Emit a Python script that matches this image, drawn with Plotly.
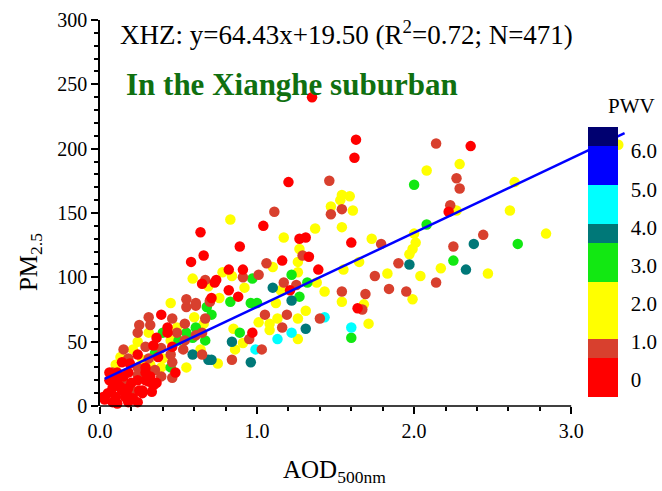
import plotly.graph_objects as go

# ---------------- data ----------------
# PWV class < 0.5 (red)
red_aod = [0.39, 0.43, 0.43, 0.36, 0.34, 0.46, 0.24, 0.37, 0.14, 0.19,
           0.29, 0.11, 0.18, 0.29, 0.32, 0.06, 0.11, 0.20, 0.24, 0.31,
           0.34, 0.08, 0.14, 0.18, 0.27, 0.05, 0.10, 0.16, 0.21, 0.03,
           0.08, 0.24, 0.11, 0.18, 0.13, 0.17, 0.25, 0.29, 0.33, 0.15,
           0.10, 0.06, 0.36, 0.48, 0.27, 0.02, 0.64, 0.66, 0.58, 0.65,
           0.73, 1.20, 1.04, 0.89, 1.27, 1.31, 1.33, 1.16, 0.91, 0.82,
           0.74, 1.39, 1.21, 0.82, 0.88, 0.71, 0.97, 1.63, 1.62, 2.22,
           1.60, 1.64, 2.36, 1.35]
red_pm = [71, 61, 57, 53, 47, 46, 40, 38, 34, 33,
          30, 26, 26, 26, 23, 20, 18, 18, 20, 19,
          16, 14, 12, 14, 12, 10, 7, 7, 6, 5,
          3, 3, 2, 3, 15, 10, 12, 20, 11, 23,
          20, 26, 18, 26, 10, 7, 135, 117, 112, 95,
          96, 174, 140, 124, 130, 131, 116, 113, 106, 106,
          98, 106, 90, 90, 85, 84, 57, 207, 193, 151,
          127, 76, 202, 240]

# PWV class ~1 (dark red)
dred_aod = [0.55, 0.61, 0.70, 0.31, 0.46, 0.67, 0.25, 0.32, 0.54, 0.24,
            0.49, 0.61, 0.65, 0.54, 0.15, 0.29, 0.39, 0.53, 0.65, 0.18,
            0.31, 0.45, 0.24, 0.35, 0.46, 0.08, 0.24, 0.39, 0.46, 0.15,
            0.22, 0.67, 0.55, 0.61, 0.70, 1.46, 1.11, 1.47, 1.29, 1.06,
            0.91, 1.01, 1.17, 1.25, 1.19, 1.40, 1.05, 1.16, 0.95, 1.03,
            0.84, 2.14, 2.27, 2.29, 1.54, 2.23, 1.79, 2.25, 1.90, 1.75,
            1.54, 1.84, 1.95, 2.14, 1.69, 1.67, 2.44]
dred_pm = [77, 78, 81, 69, 68, 68, 63, 63, 64, 57,
           57, 55, 57, 51, 44, 46, 45, 44, 40, 37,
           37, 40, 30, 28, 34, 26, 24, 23, 22, 19,
           11, 98, 83, 80, 82, 175, 151, 149, 117, 111,
           100, 102, 96, 94, 71, 68, 71, 61, 52, 44,
           36, 204, 177, 169, 153, 156, 126, 124, 111, 101,
           89, 91, 89, 96, 87, 75, 133]

# PWV class 1-2.5 (yellow)
yel_aod = [0.45, 0.60, 0.49, 0.66, 0.31, 0.24, 0.45, 0.21, 0.64, 0.13,
           0.27, 0.40, 0.10, 0.32, 0.39, 0.55, 0.59, 0.69, 0.83, 1.47,
           1.37, 1.17, 1.27, 1.26, 1.10, 0.78, 0.84, 1.26, 0.92, 1.38,
           1.43, 1.15, 0.76, 1.12, 1.31, 1.01, 1.08, 1.13, 1.26, 1.08,
           0.85, 1.26, 0.91, 0.86, 0.75, 2.29, 2.08, 1.54, 1.59, 1.53,
           1.61, 2.27, 1.54, 1.73, 2.00, 2.01, 1.99, 1.97, 1.65, 1.55,
           2.17, 1.83, 2.04, 1.99, 1.54, 1.68, 1.71, 2.64, 2.61, 2.84,
           2.47, 3.30]
yel_pm = [80, 69, 61, 64, 57, 50, 51, 44, 44, 38,
          36, 37, 32, 32, 30, 30, 99, 93, 145, 155,
          138, 131, 122, 112, 108, 104, 101, 104, 92, 96,
          89, 90, 84, 80, 74, 65, 64, 68, 68, 59,
          60, 52, 49, 44, 33, 188, 183, 164, 163, 160,
          152, 152, 139, 130, 134, 127, 122, 118, 112, 106,
          107, 103, 101, 83, 81, 79, 64, 174, 152, 134,
          103, 203]

# PWV class ~3 (green)
grn_aod = [0.68, 0.71, 0.61, 0.40, 0.55, 0.50, 0.59, 0.67, 0.35, 0.45,
           0.97, 1.22, 1.32, 1.27, 0.83, 0.96, 1.00, 0.89, 2.00, 2.08,
           2.25, 1.60, 2.66]
grn_pm = [77, 71, 61, 57, 57, 51, 53, 51, 41, 30,
          99, 102, 96, 85, 81, 80, 80, 57, 172, 141,
          113, 53, 126]

# PWV class ~4 (teal)
teal_aod = [0.59, 0.69, 1.10, 1.22, 1.31, 0.84, 0.96, 0.71, 1.97, 2.38, 2.33]
teal_pm = [40, 36, 92, 82, 60, 50, 34, 36, 110, 126, 106]

# PWV class ~4.5 (cyan)
cyan_aod = [1.43, 1.22, 1.13, 0.99, 1.60]
cyan_pm = [69, 57, 52, 44, 61]

# representative PWV value of each class
pwv_yel, pwv_grn, pwv_teal, pwv_cyan, pwv_dred, pwv_red = 1.8, 3.0, 3.85, 4.6, 0.8, 0.2

# fitted line as drawn in the picture (end points)
fit_x = [0.03, 3.34]
fit_y = [21, 212]

# colour bar
pwv_ticks = [0, 1, 2, 3, 4, 5, 6]
pwv_ticktext = ["0", "1.0", "2.0", "3.0", "4.0", "5.0", "6.0"]
pwv_min, pwv_max = -0.44, 6.64
pwv_bounds = [0.57, 1.08, 2.58, 3.59, 4.10, 5.11, 6.13]
pwv_colors = ["#ff0000", "#d8402e", "#ffff00", "#12e812", "#007878",
              "#00ffff", "#0000ff", "#000070"]

x_ticks = [0, 1, 2, 3]
x_ticktext = ["0.0", "1.0", "2.0", "3.0"]
y_ticks = [0, 50, 100, 150, 200, 250, 300]

# ---------------- build ----------------
groups = [(yel_aod, yel_pm, pwv_yel), (grn_aod, grn_pm, pwv_grn),
          (teal_aod, teal_pm, pwv_teal), (cyan_aod, cyan_pm, pwv_cyan),
          (dred_aod, dred_pm, pwv_dred), (red_aod, red_pm, pwv_red)]
aod, pm, pwv = [], [], []
for gx, gy, gv in groups:
    n = min(len(gx), len(gy))
    aod += gx[:n]
    pm += gy[:n]
    pwv += [gv] * n

span = pwv_max - pwv_min
norm = [(b - pwv_min) / span for b in pwv_bounds]
colorscale = []
for i, c in enumerate(pwv_colors):
    s = 0.0 if i == 0 else norm[i - 1]
    e = 1.0 if i == len(pwv_colors) - 1 else norm[i]
    colorscale.append([s, c])
    colorscale.append([e, c])

FONT = "Liberation Serif"

fig = go.Figure()
fig.add_trace(go.Scatter(
    x=aod, y=pm, mode="markers", cliponaxis=False, hoverinfo="skip",
    marker=dict(size=10.5, color=pwv, colorscale=colorscale, cmin=pwv_min, cmax=pwv_max,
                line=dict(width=0), opacity=1,
                colorbar=dict(x=0.9139, xanchor="left", y=0.0241, yanchor="bottom",
                              len=270, lenmode="pixels", thickness=30, thicknessmode="pixels",
                              xpad=0, ypad=0, outlinewidth=0,
                              ticks="outside", ticklen=9, tickcolor="rgba(0,0,0,0)",
                              tickvals=pwv_ticks, ticktext=pwv_ticktext,
                              tickfont=dict(family=FONT, size=21, color="black"))),
))
fig.add_trace(go.Scatter(x=fit_x, y=fit_y, mode="lines", hoverinfo="skip",
                         line=dict(color="#0000ff", width=2.5)))

minor_x = [i / 5 for i in range(1, 15) if i % 5 != 0]
fig.update_layout(
    width=662, height=491,
    margin=dict(l=100, r=28, t=20, b=85, autoexpand=False),
    plot_bgcolor="white", paper_bgcolor="white",
    showlegend=False,
    font=dict(family=FONT, color="black"),
    xaxis=dict(range=[0, 3.4], tickvals=x_ticks, ticktext=x_ticktext,
               ticks="outside", ticklen=7, tickwidth=1.5, tickcolor="black",
               showline=False, showgrid=False, zeroline=False,
               tickfont=dict(family=FONT, size=20, color="black"),
               minor=dict(tickmode="array", tickvals=minor_x, ticks="outside", ticklen=4,
                          tickwidth=1.5, tickcolor="black", showgrid=False)),
    yaxis=dict(range=[0, 300], tickvals=y_ticks,
               ticks="outside", ticklen=7, tickwidth=1.5, tickcolor="black",
               showline=True, linewidth=1.5, linecolor="black",
               showgrid=False, zeroline=False,
               tickfont=dict(family=FONT, size=20, color="black"),
               minor=dict(dtick=10, ticks="outside", ticklen=4, tickwidth=1.5,
                          tickcolor="black", showgrid=False)),
    shapes=[dict(type="line", xref="x", yref="paper", x0=0, x1=3, y0=0, y1=0,
                 line=dict(color="black", width=1.5))],
    annotations=[
        dict(text="XHZ: y=64.43x+19.50 (R<sup>2</sup>=0.72; N=471)", xref="paper", yref="paper",
             x=0.0337, y=0.966, xanchor="left", yanchor="middle", showarrow=False,
             font=dict(family=FONT, size=27, color="black")),
        dict(text="<b>In the Xianghe suburban</b>", xref="paper", yref="paper",
             x=0.045, y=0.832, xanchor="left", yanchor="middle", showarrow=False,
             font=dict(family=FONT, size=31, color="#107010")),
        dict(text="PWV", xref="paper", yref="paper", x=0.996, y=0.777,
             xanchor="center", yanchor="middle", showarrow=False,
             font=dict(family=FONT, size=21, color="black")),
        dict(text="AOD<sub>500nm</sub>", xref="paper", yref="paper", x=0.44, y=-0.17,
             xanchor="center", yanchor="middle", showarrow=False,
             font=dict(family=FONT, size=25, color="black")),
        dict(text="PM<sub>2.5</sub>", xref="paper", yref="paper", x=-0.131, y=0.373,
             xanchor="center", yanchor="middle", showarrow=False, textangle=-90,
             font=dict(family=FONT, size=25, color="black")),
    ],
)

fig.write_html("out.html")
